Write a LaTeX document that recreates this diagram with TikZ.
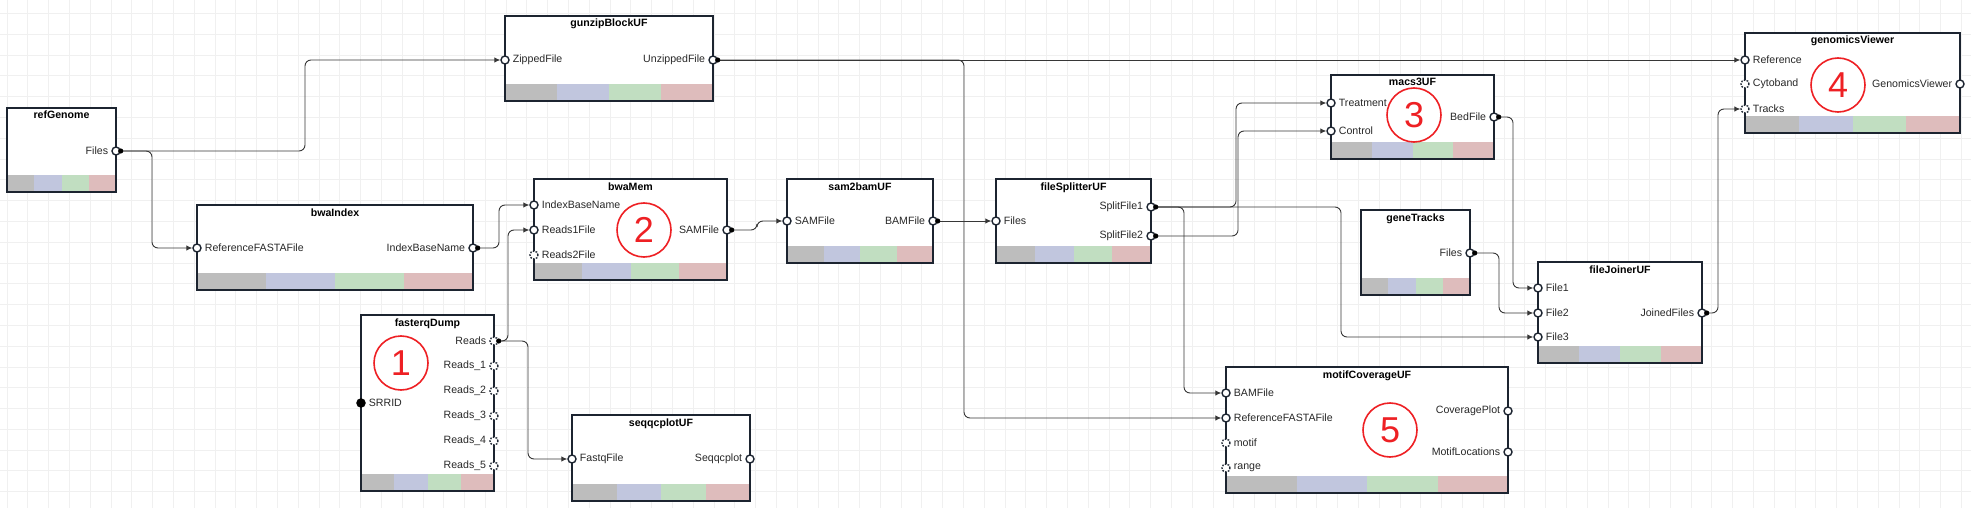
\documentclass[tikz,border=0pt]{standalone}
\usepackage{fontspec}
\setmainfont{Liberation Sans}
\usetikzlibrary{arrows.meta}

\definecolor{boxline}{RGB}{28,36,48}
\definecolor{wirecol}{RGB}{55,55,55}
\definecolor{gridcol}{RGB}{240,240,240}
\definecolor{labcol}{RGB}{40,40,40}
\definecolor{numred}{RGB}{238,32,36}
\definecolor{barA}{RGB}{189,189,189}
\definecolor{barB}{RGB}{193,198,222}
\definecolor{barC}{RGB}{193,222,193}
\definecolor{barD}{RGB}{222,188,188}

\pgfdeclarelayer{back}
\pgfdeclarelayer{wires}
\pgfsetlayers{back,wires,main}

\tikzset{
  gridline/.style={draw=gridcol, line width=0.8pt},
  ufbox/.style={fill=white, inner sep=0pt, outer sep=0pt},
  ufline/.style={draw=boxline, line width=1.6pt},
  uftitle/.style={font=\fontsize{10.6}{12}\selectfont\bfseries, inner sep=0pt},
  portlab/.style={text=labcol, inner sep=3pt},
  ufport/.style={circle, draw=boxline, line width=1.4pt, fill=white,
    inner sep=0pt, minimum size=8pt},
  inp/.style={ufport, label={[portlab]east:#1}},
  outp/.style={ufport, label={[portlab]west:#1}},
  inp opt/.style={inp=#1, dash pattern=on 1.6pt off 1.3pt},
  outp opt/.style={outp=#1, dash pattern=on 1.6pt off 1.3pt},
  inp req/.style={inp=#1, fill=black, draw=black},
  num/.style={circle, draw=numred, line width=1.6pt, text=numred,
    minimum size=54pt, inner sep=0pt, font=\fontsize{36}{36}\selectfont},
  wire/.style={draw=wirecol, line width=0.9pt, rounded corners=6pt,
    -{Latex[length=6pt,width=5.5pt]}},
}

% block: name, x1, y1, x2, y2, title
\newcommand\ufnode[6]{%
  \pgfmathsetmacro\ufw{#4-#2}\pgfmathsetmacro\ufh{#5-#3}%
  \node[ufbox, minimum width=\ufw pt, minimum height=\ufh pt, anchor=north west] (#1) at (#2,#3) {};
  \foreach \c [count=\i from 0] in {barA,barB,barC,barD}
    \fill[\c] ({#2+\i*\ufw/4},{#5-17}) rectangle ({#2+(\i+1)*\ufw/4},#5);
  \draw[ufline] (#1.north west) rectangle (#1.south east);
  \node[uftitle, anchor=base] (#1-t) at ({(#2+#4)/2},{#3+11}) {#6};
}

\begin{document}
\begin{tikzpicture}[x=1pt, y=-1pt, font=\fontsize{10.6}{12}\selectfont]
\useasboundingbox (0,0) rectangle (1971,508);

\begin{pgfonlayer}{back}
  \fill[white] (0,0) rectangle (1971,508);
  \foreach \k in {0,...,94} \draw[gridline] ({7.1+20.79*\k},0) -- ++(0,508);
  \foreach \k in {0,...,23} \draw[gridline] (0,{13.5+20.79*\k}) -- ++(1971,0);

  \ufnode{rg}{7}{108}{116}{192}{refGenome}
  \ufnode{gz}{505}{16}{713}{101}{gunzipBlockUF}
  \ufnode{bi}{197}{205}{473}{290}{bwaIndex}
  \ufnode{fq}{361}{315}{494}{491}{fasterqDump}
  \ufnode{bm}{534}{179}{727}{280}{bwaMem}
  \ufnode{sb}{787}{179}{933}{263}{sam2bamUF}
  \ufnode{sq}{572}{415}{750}{501}{seqqcplotUF}
  \ufnode{fs}{996}{179}{1151}{263}{fileSplitterUF}
  \ufnode{m3}{1331}{75}{1494}{159}{macs3UF}
  \ufnode{gt}{1361}{210}{1470}{295}{geneTracks}
  \ufnode{fj}{1538}{262}{1702}{363}{fileJoinerUF}
  \ufnode{mc}{1226}{367}{1508}{493}{motifCoverageUF}
  \ufnode{gv}{1745}{33}{1960}{133}{genomicsViewer}
\end{pgfonlayer}

% refGenome
\node[outp=Files] (rg-Files) at (116,151) {};
% gunzipBlockUF
\node[inp=ZippedFile] (gz-Zip) at (505,60) {};
\node[outp=UnzippedFile] (gz-Unz) at (713,60) {};
% bwaIndex
\node[inp=ReferenceFASTAFile] (bi-Ref) at (197,248) {};
\node[outp=IndexBaseName] (bi-Idx) at (473,248) {};
% fasterqDump
\node[outp opt=Reads] (fq-Reads) at (494,341) {};
\foreach \i in {1,...,5}
  \node[outp opt=Reads\_\i] (fq-R\i) at (494,{341+25*\i}) {};
\node[inp req=SRRID] (fq-SRR) at (361,403) {};
\node[num] (n1) at (401,363) {1};
% bwaMem
\node[inp=IndexBaseName] (bm-Idx) at (534,205) {};
\node[inp=Reads1File] (bm-R1) at (534,230) {};
\node[inp opt=Reads2File] (bm-R2) at (534,255) {};
\node[outp=SAMFile] (bm-SAM) at (727,230) {};
\node[num] (n2) at (644,230) {2};
% sam2bamUF
\node[inp=SAMFile] (sb-SAM) at (787,221) {};
\node[outp=BAMFile] (sb-BAM) at (933,221) {};
% seqqcplotUF
\node[inp=FastqFile] (sq-Fq) at (572,459) {};
\node[outp=Seqqcplot] (sq-Plot) at (750,459) {};
% fileSplitterUF
\node[inp=Files] (fs-Files) at (996,221) {};
\node[outp=SplitFile1] (fs-S1) at (1151,207) {};
\node[outp=SplitFile2] (fs-S2) at (1151,236) {};
% macs3UF
\node[inp=Treatment] (m3-Tr) at (1331,103) {};
\node[inp=Control] (m3-Ct) at (1331,131) {};
\node[outp=BedFile] (m3-Bed) at (1494,117) {};
\node[num] (n3) at (1414,115) {3};
% geneTracks
\node[outp=Files] (gt-Files) at (1470,253) {};
% fileJoinerUF
\foreach \i/\y in {1/288,2/313,3/337}
  \node[inp=File\i] (fj-F\i) at (1538,\y) {};
\node[outp=JoinedFiles] (fj-Join) at (1702,313) {};
% motifCoverageUF
\node[inp=BAMFile] (mc-BAM) at (1226,393) {};
\node[inp=ReferenceFASTAFile] (mc-Ref) at (1226,418) {};
\node[inp opt=motif] (mc-Motif) at (1226,443) {};
\node[inp opt=range] (mc-Range) at (1226,468) {};
\node[outp=CoveragePlot] (mc-Cov) at (1508,411) {};
\node[outp=MotifLocations] (mc-Loc) at (1508,452) {};
\node[num] (n5) at (1390,430) {5};
% genomicsViewer
\node[inp=Reference] (gv-Ref) at (1745,60) {};
\node[inp opt=Cytoband] (gv-Cyto) at (1745,84) {};
\node[inp opt=Tracks] (gv-Tracks) at (1745,109) {};
\node[outp=GenomicsViewer] (gv-Out) at (1960,84) {};
\node[num] (n4) at (1838,85) {4};

\begin{pgfonlayer}{wires}
  \draw[wire] (rg-Files) -- ++(189,0) |- (gz-Zip.west);
  \draw[wire] (rg-Files) -- ++(36,0) |- (bi-Ref.west);
  \draw[wire] (bi-Idx) -- ++(26,0) |- (bm-Idx.west);
  \draw[wire] (fq-Reads) -- ++(14,0) |- (bm-R1.west);
  \draw[wire] (fq-Reads) -- ++(34,0) |- (sq-Fq.west);
  \draw[wire] (bm-SAM) -- ++(30,0) |- (sb-SAM.west);
  \draw[wire] (sb-BAM) -- (fs-Files.west);
  \draw[wire] (gz-Unz) -- (gv-Ref.west);
  \draw[wire] (gz-Unz) -- ++(251,0) |- (mc-Ref.west);
  \draw[wire] (fs-S1) -- ++(85,0) |- (m3-Tr.west);
  \draw[wire] (fs-S2) -- ++(87,0) |- (m3-Ct.west);
  \draw[wire] (fs-S1) -- ++(33,0) |- (mc-BAM.west);
  \draw[wire] (fs-S1) -- ++(190,0) |- (fj-F3.west);
  \draw[wire] (m3-Bed) -- ++(19,0) |- (fj-F1.west);
  \draw[wire] (gt-Files) -- ++(29,0) |- (fj-F2.west);
  \draw[wire] (fj-Join) -- ++(16,0) |- (gv-Tracks.west);
\end{pgfonlayer}

% start markers of the links
\foreach \p in {rg-Files,gz-Unz,bi-Idx,fq-Reads,bm-SAM,sb-BAM,fs-S1,fs-S2,m3-Bed,gt-Files,fj-Join}
  \fill[black] (\p.east) circle (2.6);
\end{tikzpicture}
\end{document}
